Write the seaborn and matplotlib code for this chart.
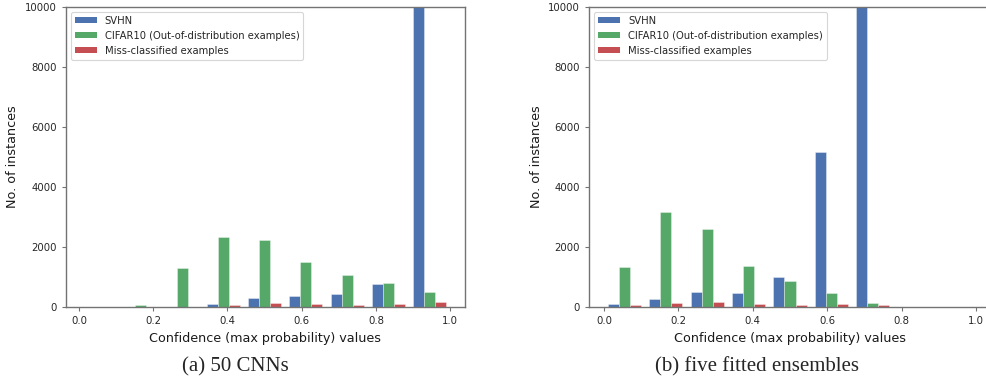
import numpy as np
import pandas as pd
import matplotlib
matplotlib.use("Agg")
import matplotlib.pyplot as plt
from matplotlib.patches import Patch
import seaborn as sns

# ---- data -------------------------------------------------------------
bin_centers = [0.0556, 0.1667, 0.2778, 0.3889, 0.5, 0.6111, 0.7222, 0.8333, 0.9444]
series = ["SVHN", "CIFAR10 (Out-of-distribution examples)", "Miss-classified examples"]
colors = ["#4C72B0", "#55A868", "#C44E52"]

left_svhn = [0, 0, 20, 110, 310, 370, 455, 765, 23900]
left_cifar = [0, 66, 1310, 2345, 2255, 1510, 1075, 810, 525]
left_miss = [0, 0, 20, 66, 144, 110, 89, 100, 166]

right_svhn = [100, 290, 500, 478, 1007, 5175, 18480, 0, 0]
right_cifar = [1345, 3165, 2590, 1385, 875, 478, 144, 0, 0]
right_miss = [77, 144, 166, 111, 77, 100, 77, 0, 0]

yticks = [0, 2000, 4000, 6000, 8000, 10000]
xticks = [0.0, 0.2, 0.4, 0.6, 0.8, 1.0]
xlabel = "Confidence (max probability) values"
ylabel = "No. of instances"
captions = ["(a) 50 CNNs", "(b) five fitted ensembles"]


def long_df(a, b, c):
    rows = []
    for name, vals in zip(series, [a, b, c]):
        for x, v in zip(bin_centers, vals):
            rows.append({"conf": x, "count": v, "series": name})
    return pd.DataFrame(rows)


sns.set_style("white")
plt.rcParams.update({
    "font.family": ["DejaVu Sans"],
    "axes.edgecolor": "0.45",
    "axes.linewidth": 1.0,
    "xtick.color": "0.45",
    "ytick.color": "0.45",
    "xtick.labelcolor": "0.15",
    "ytick.labelcolor": "0.15",
    "xtick.bottom": True,
    "ytick.left": True,
    "xtick.major.size": 3.0,
    "ytick.major.size": 3.0,
    "xtick.direction": "out",
    "ytick.direction": "out",
})

fig = plt.figure(figsize=(9.87, 3.81), dpi=100)
W, H = 987, 381
bottom, top = 307.3, 6.7
ax1 = fig.add_axes([65.7 / W, 1 - bottom / H, (465 - 65.7) / W, (bottom - top) / H])
ax2 = fig.add_axes([589 / W, 1 - bottom / H, (991 - 589) / W, (bottom - top) / H])

panels = [
    (ax1, long_df(left_svhn, left_cifar, left_miss), (-0.036, 1.040)),
    (ax2, long_df(right_svhn, right_cifar, right_miss), (-0.040, 1.040)),
]

for ax, df, xl in panels:
    sns.barplot(data=df, x="conf", y="count", hue="series", hue_order=series,
                palette=colors, saturation=1, native_scale=True, width=0.8,
                dodge=True, gap=0, errorbar=None,
                edgecolor=(1, 1, 1, 0.5), linewidth=0.5,
                legend=False, ax=ax)
    ax.set_xlim(*xl)
    ax.set_ylim(0, 10000)
    ax.set_yticks(yticks)
    ax.set_xticks(xticks)
    ax.set_xticklabels([f"{t:.1f}" for t in xticks])
    ax.tick_params(labelsize=7.3)
    ax.set_xlabel(xlabel, fontsize=9.2, color="0.1")
    ax.set_ylabel(ylabel, fontsize=9.2, color="0.1")
    for s in ax.spines.values():
        s.set_visible(True)
    handles = [Patch(facecolor=c, edgecolor="none") for c in colors]
    leg = ax.legend(handles, series, loc="upper left", fontsize=7.2,
                    frameon=True, fancybox=True, edgecolor="0.8",
                    handlelength=2.2, handleheight=0.6,
                    borderaxespad=0.5)
    leg.get_frame().set_linewidth(0.8)

fig.text(235 / W, 1 - 367 / H, captions[0], ha="center", va="center",
         family="Liberation Serif", fontsize=15)
fig.text(757 / W, 1 - 367 / H, captions[1], ha="center", va="center",
         family="Liberation Serif", fontsize=15)

fig.savefig("out.png", dpi=100, facecolor="white")
